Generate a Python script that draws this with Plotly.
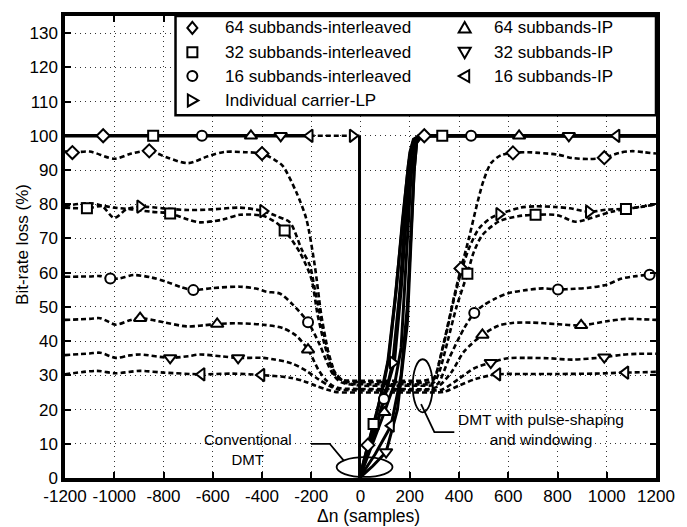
import numpy as np
import plotly.graph_objects as go

FONT = "Liberation Sans, Arial, Helvetica, sans-serif"

# ---------------- axes ----------------
x_ticks = list(range(-1200, 1201, 200))
x_tick_text = [str(v) for v in x_ticks]
y_ticks = list(range(0, 131, 10))
y_tick_text = [str(v) for v in y_ticks]

# ---------------- DMT with pulse-shaping and windowing (dashed) ----------------
ps64i_x = [-1200, -1170, -1100, -1000, -930, -858, -780, -700, -620, -550,
           -470, -400, -350, -316, -260, -220, -186, -160, -140, -120,
           -100, -70, 0, 100, 200, 260, 300, 320, 354, 380,
           408, 440, 475, 500, 530, 570, 619, 680, 725, 800,
           860, 930, 990, 1050, 1100, 1150, 1200]
ps64i_y = [95.5, 95.1, 95.4, 93.3, 94.8, 95.6, 93.5, 92.0, 94.0, 95.3,
           95.2, 94.8, 93.0, 91.2, 83.4, 75.7, 62.2, 48.0, 40.0, 33.0,
           29.5, 28.6, 28.4, 28.4, 28.4, 28.5, 29.5, 34.0, 44.0, 53.0,
           61.2, 70.0, 80.5, 87.0, 92.0, 94.3, 95.0, 95.2, 95.0, 94.5,
           93.5, 93.2, 93.6, 95.0, 95.5, 95.2, 94.8]
ps64i_marks = [-1170, -858, -400, 408, 619, 990]

ps32i_x = [-1200, -1111, -1050, -1000, -930, -850, -773, -700, -652, -560,
           -490, -396, -340, -308, -247, -200, -175, -146, -120, -98,
           -60, 0, 100, 200, 280, 300, 320, 354, 390, 434,
           460, 495, 563, 640, 711, 800, 873, 960, 1020, 1078,
           1140, 1200]
ps32i_y = [79.0, 78.8, 79.5, 79.0, 78.5, 77.8, 77.3, 75.5, 74.7, 75.5,
           76.9, 76.6, 74.5, 72.3, 66.0, 58.3, 48.0, 39.0, 33.0, 30.3,
           27.8, 27.4, 27.4, 27.4, 27.4, 28.0, 31.0, 40.0, 50.0, 59.7,
           66.0, 71.0, 75.0, 76.5, 76.9, 76.8, 74.9, 76.5, 77.8, 78.6,
           79.3, 80.0]
ps32i_marks = [-1111, -773, -308, 434, 711, 1078]

ps16i_x = [-1200, -1100, -1057, -1016, -980, -922, -850, -787, -730, -679,
           -600, -490, -420, -382, -328, -274, -213, -166, -140, -112,
           -80, 0, 100, 200, 280, 313, 360, 421, 462, 500,
           549, 600, 671, 740, 802, 870, 927, 1000, 1061, 1120,
           1174, 1200]
ps16i_y = [58.8, 58.9, 59.0, 58.3, 58.3, 59.3, 58.6, 57.3, 55.8, 54.9,
           55.5, 55.9, 55.3, 54.4, 53.9, 50.6, 45.5, 39.0, 34.5, 30.3,
           28.0, 27.0, 27.0, 27.0, 27.0, 27.5, 35.0, 43.8, 48.2, 50.5,
           52.5, 54.0, 54.9, 55.4, 55.1, 55.3, 55.6, 56.5, 58.3, 59.0,
           59.4, 59.5]
ps16i_marks = [-1016, -679, -213, 462, 802, 1174]

psLP_x = [-1200, -1100, -1050, -1000, -950, -895, -800, -700, -600, -490,
          -396, -340, -287, -240, -206, -186, -160, -139, -115, -98,
          -60, 0, 100, 200, 280, 300, 330, 365, 408, 440,
          482, 530, 563, 650, 711, 790, 850, 927, 1000, 1078,
          1140, 1200]
psLP_y = [79.5, 80.3, 79.5, 76.0, 78.5, 79.3, 78.8, 78.3, 78.5, 79.0,
          78.0, 76.5, 74.7, 67.0, 62.2, 55.4, 46.0, 39.0, 33.0, 29.8,
          28.2, 28.0, 28.0, 28.0, 28.0, 29.0, 37.0, 48.0, 60.0, 67.0,
          73.0, 76.0, 77.1, 79.0, 79.4, 79.2, 78.8, 77.8, 78.4, 78.7,
          79.2, 80.0]
psLP_marks = [-895, -396, 563, 927]

ps64ip_x = [-1200, -1100, -1057, -993, -940, -895, -800, -706, -640, -582,
            -500, -396, -315, -260, -213, -170, -139, -110, -80, 0,
            100, 200, 280, 320, 370, 421, 495, 560, 616, 700,
            792, 896, 1000, 1076, 1140, 1200]
ps64ip_y = [46.2, 46.5, 46.7, 44.8, 46.0, 46.7, 45.5, 44.3, 44.6, 45.0,
            45.2, 44.8, 43.8, 41.5, 37.5, 31.5, 28.5, 26.8, 26.2, 26.0,
            26.0, 26.0, 26.0, 27.0, 31.0, 37.0, 41.8, 44.5, 45.3, 45.4,
            45.0, 44.6, 45.8, 46.5, 46.4, 46.2]
ps64ip_marks = [-895, -582, -213, 495, 896]

ps32ip_x = [-1200, -1100, -1057, -993, -940, -895, -773, -700, -652, -560,
            -497, -396, -355, -280, -220, -170, -126, -90, 0, 100,
            200, 280, 330, 400, 460, 529, 600, 671, 760, 860,
            990, 1060, 1130, 1200]
ps32ip_y = [35.9, 36.4, 36.6, 35.1, 35.8, 36.1, 35.1, 35.6, 36.1, 35.5,
            35.1, 35.1, 34.7, 33.5, 31.3, 28.8, 26.9, 25.9, 25.6, 25.6,
            25.6, 25.6, 25.8, 29.0, 32.0, 33.7, 35.0, 35.1, 35.0, 34.6,
            35.3, 36.0, 36.3, 36.3]
ps32ip_marks = [-773, -497, 529, 990]

ps16ip_x = [-1200, -1070, -996, -895, -800, -645, -520, -402, -287, -230,
            -180, -130, -98, 0, 100, 200, 280, 340, 400, 470,
            556, 650, 800, 950, 1076, 1200]
ps16ip_y = [30.3, 31.3, 30.6, 31.3, 30.8, 30.3, 30.5, 30.1, 29.3, 28.3,
            26.9, 25.7, 25.1, 25.0, 25.0, 25.0, 25.0, 25.2, 27.0, 29.0,
            30.3, 30.4, 30.4, 30.5, 30.8, 31.0]
ps16ip_marks = [-645, -402, 556, 1076]

# ---------------- conventional DMT (solid) ----------------
conv_plateau_x = [-1200, -206]
conv_plateau_y = [100, 100]
conv_gap_x = [-206, -4]
conv_gap_y = [100, 100]
conv_drop_x = [-4, -4]
conv_drop_y = [100, 0]

c64i_x = [-4, 30, 70, 111, 140, 165, 195, 212, 235, 259, 1200]
c64i_y = [0, 9.6, 20, 34, 52, 70, 92, 98, 100, 100, 100]
c64i_marks = [-1045, 30, 259]

c32i_x = [-4, 53, 90, 115, 145, 170, 200, 215, 240, 332, 1200]
c32i_y = [0, 15.8, 26, 35, 55, 75, 95, 99, 100, 100, 100]
c32i_marks = [-842, 53, 332]

c16i_x = [-4, 50, 95, 138, 165, 185, 205, 220, 240, 449, 1200]
c16i_y = [0, 12, 23.1, 34, 55, 75, 94, 99, 100, 100, 100]
c16i_marks = [-644, 95, 449]

cLP_x = [-4, 60, 100, 131, 160, 185, 205, 220, 240, 1200]
cLP_y = [0, 14, 24, 33.7, 55, 80, 95, 99, 100, 100]
cLP_marks = [-32, 131]

c64ip_x = [-4, 50, 97, 140, 165, 185, 205, 222, 245, 644, 1200]
c64ip_y = [0, 10, 19.2, 28, 38, 63, 88, 98, 100, 100, 100]
c64ip_marks = [-445, 97, 644]

c32ip_x = [-4, 50, 104, 150, 190, 205, 218, 228, 250, 846, 1200]
c32ip_y = [0, 3.5, 7.6, 20, 45, 70, 90, 98, 100, 100, 100]
c32ip_marks = [-324, 104, 846]

c16ip_x = [-4, 60, 124, 165, 190, 205, 218, 228, 250, 1040, 1200]
c16ip_y = [0, 7, 15.3, 30, 50, 72, 90, 98, 100, 100, 100]
c16ip_marks = [-206, 124, 1040]

# ---------------- legend entries ----------------
legend_labels = ["64 subbands-interleaved", "32 subbands-interleaved",
                 "16 subbands-interleaved", "Individual carrier-LP",
                 "64 subbands-IP", "32 subbands-IP", "16 subbands-IP"]
legend_symbols = ["diamond", "square", "circle", "triangle-right",
                  "triangle-up", "triangle-down", "triangle-left"]

pulse_series = [
    (ps64i_x, ps64i_y, ps64i_marks),
    (ps32i_x, ps32i_y, ps32i_marks),
    (ps16i_x, ps16i_y, ps16i_marks),
    (psLP_x, psLP_y, psLP_marks),
    (ps64ip_x, ps64ip_y, ps64ip_marks),
    (ps32ip_x, ps32ip_y, ps32ip_marks),
    (ps16ip_x, ps16ip_y, ps16ip_marks),
]
conv_series = [
    (c64i_x, c64i_y, c64i_marks),
    (c32i_x, c32i_y, c32i_marks),
    (c16i_x, c16i_y, c16i_marks),
    (cLP_x, cLP_y, cLP_marks),
    (c64ip_x, c64ip_y, c64ip_marks),
    (c32ip_x, c32ip_y, c32ip_marks),
    (c16ip_x, c16ip_y, c16ip_marks),
]

MARKER_SIZE = {"diamond": 10, "square": 10, "circle": 10,
               "triangle-up": 11, "triangle-down": 11,
               "triangle-left": 11, "triangle-right": 11}
DASH = "5px,3px"
DASH_W = 2.6

fig = go.Figure()

# dashed curves
for xs, ys, _ in pulse_series:
    fig.add_trace(go.Scatter(
        x=xs, y=ys, mode="lines", hoverinfo="skip",
        line=dict(color="black", width=DASH_W, dash=DASH,
                  shape="spline", smoothing=0.8)))

# conventional DMT: shared 100 % plateau, dashed bridge and the drop at 0
fig.add_trace(go.Scatter(x=conv_plateau_x, y=conv_plateau_y, mode="lines",
                         hoverinfo="skip", line=dict(color="black", width=3.6)))
fig.add_trace(go.Scatter(x=conv_gap_x, y=conv_gap_y, mode="lines",
                         hoverinfo="skip",
                         line=dict(color="black", width=DASH_W, dash=DASH)))
fig.add_trace(go.Scatter(x=conv_drop_x, y=conv_drop_y, mode="lines",
                         hoverinfo="skip", line=dict(color="black", width=3)))
for xs, ys, _ in conv_series:
    fig.add_trace(go.Scatter(x=xs, y=ys, mode="lines", hoverinfo="skip",
                             line=dict(color="black", width=3)))


def conv_mark_y(marks, xs, ys):
    left_x = conv_plateau_x + conv_gap_x[1:]
    left_y = conv_plateau_y + conv_gap_y[1:]
    out = []
    for m in marks:
        if m < conv_drop_x[0]:
            out.append(float(np.interp(m, left_x, left_y)))
        else:
            out.append(float(np.interp(m, xs, ys)))
    return out


# markers
for (xs, ys, marks), (cx, cy, cmarks), sym in zip(pulse_series, conv_series,
                                                  legend_symbols):
    mk = dict(symbol=sym, size=MARKER_SIZE[sym], color="white",
              line=dict(color="black", width=2))
    fig.add_trace(go.Scatter(x=marks, y=np.interp(marks, xs, ys),
                             mode="markers", marker=mk, hoverinfo="skip"))
    fig.add_trace(go.Scatter(x=cmarks, y=conv_mark_y(cmarks, cx, cy),
                             mode="markers", marker=mk, hoverinfo="skip"))

# ---------------- legend box (drawn as layout shapes + text) ----------------
shapes = [dict(type="rect", xref="x domain", yref="y domain",
               x0=0.187, x1=1.0, y0=0.785, y1=1.0, layer="above",
               fillcolor="white", line=dict(color="black", width=2.5))]

glyph_paths = {
    "diamond": "M -5,0 L 0,6 L 5,0 L 0,-6 Z",
    "square": "M -5,-5 L 5,-5 L 5,5 L -5,5 Z",
    "triangle-up": "M -6,-4.5 L 6,-4.5 L 0,6 Z",
    "triangle-down": "M -6,4.5 L 6,4.5 L 0,-6 Z",
    "triangle-left": "M 4.5,-6 L 4.5,6 L -6,0 Z",
    "triangle-right": "M -4.5,-6 L -4.5,6 L 6,0 Z",
}
row_y = [0.9742, 0.9215, 0.8699, 0.8172]
col_marker_x = [0.2155, 0.6763]
col_text_x = [0.2677, 0.7222]

annotations = []
for i, (label, sym) in enumerate(zip(legend_labels, legend_symbols)):
    col = 0 if i < 4 else 1
    row = i if i < 4 else i - 4
    mx, my = col_marker_x[col], row_y[row]
    if sym == "circle":
        shapes.append(dict(type="circle", xref="x domain", yref="y domain",
                           xsizemode="pixel", ysizemode="pixel",
                           xanchor=mx, yanchor=my, x0=-5, x1=5, y0=-5, y1=5,
                           layer="above", fillcolor="white",
                           line=dict(color="black", width=2)))
    else:
        shapes.append(dict(type="path", xref="x domain", yref="y domain",
                           xsizemode="pixel", ysizemode="pixel",
                           xanchor=mx, yanchor=my, path=glyph_paths[sym],
                           layer="above", fillcolor="white",
                           line=dict(color="black", width=2)))
    annotations.append(dict(text=label, xref="x domain", yref="y domain",
                            x=col_text_x[col], y=my, xanchor="left",
                            yanchor="middle", showarrow=False,
                            font=dict(size=17)))

# ---------------- callouts ----------------
shapes += [
    dict(type="circle", xref="x", yref="y", x0=-97, x1=130, y0=0.3, y1=6.1,
         layer="above", line=dict(color="black", width=1.8)),
    dict(type="path", xref="x", yref="y",
         path="M -201,10 L -125,10 L -68,5.1", layer="above",
         line=dict(color="black", width=1.8)),
    dict(type="circle", xref="x", yref="y", x0=212, x1=293, y0=19.2, y1=34.7,
         layer="above", line=dict(color="black", width=1.8)),
    dict(type="path", xref="x", yref="y",
         path="M 246,21.6 L 300,13.4 L 381,13.4", layer="above",
         line=dict(color="black", width=1.8)),
]
annotations += [
    dict(text="Conventional<br>DMT", xref="x", yref="y", x=-458, y=8.4,
         xanchor="center", yanchor="middle", showarrow=False,
         font=dict(size=15)),
    dict(text="DMT with pulse-shaping<br>and windowing", xref="x", yref="y",
         x=732, y=14.2, xanchor="center", yanchor="middle", showarrow=False,
         font=dict(size=15.5)),
    dict(text="Bit-rate loss (%)", xref="paper", yref="paper", x=-0.0724,
         y=0.505, textangle=-90, xanchor="center", yanchor="middle",
         showarrow=False, font=dict(size=17)),
    dict(text="\u0394n (samples)", xref="paper", yref="paper", x=0.513,
         y=-0.082, xanchor="center", yanchor="middle", showarrow=False,
         font=dict(size=17.5)),
]

axis_common = dict(ticks="inside", ticklen=6, tickwidth=2, tickcolor="black",
                   showline=True, linewidth=3.5, linecolor="black",
                   mirror="ticks", showgrid=True, gridcolor="#333333",
                   gridwidth=1, griddash="1px,4px", zeroline=False,
                   tickfont=dict(size=17, color="black"))

fig.update_layout(
    width=687, height=527,
    margin=dict(l=65, r=28, t=13, b=49),
    paper_bgcolor="white", plot_bgcolor="white",
    showlegend=False,
    font=dict(family=FONT, color="black"),
    xaxis=dict(range=[-1200, 1200], tickvals=x_ticks, ticktext=x_tick_text,
               **axis_common),
    yaxis=dict(range=[0, 135], tickvals=y_ticks, ticktext=y_tick_text,
               **axis_common),
    shapes=shapes,
    annotations=annotations,
)

fig.write_html("out.html", config={"displayModeBar": False})
